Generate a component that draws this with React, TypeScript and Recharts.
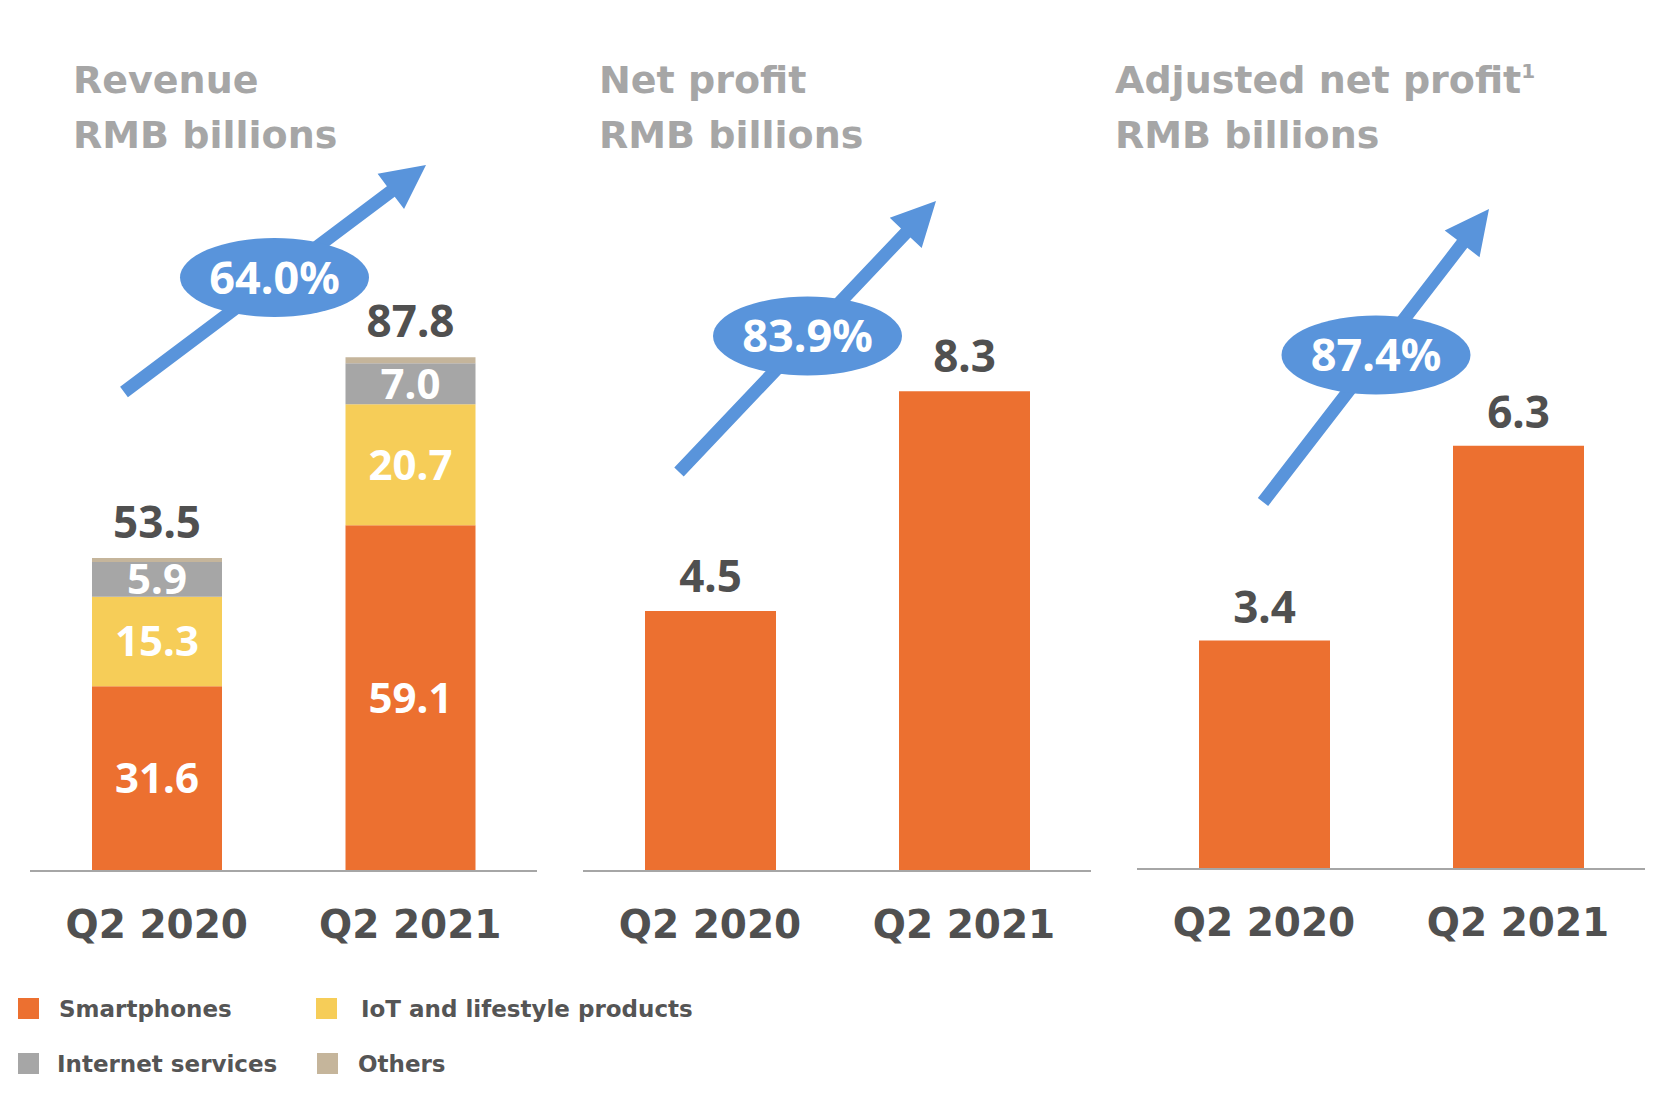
import React from 'react';
import { BarChart, Bar, XAxis, YAxis, LabelList } from 'recharts';

// Quarters compared in every panel
const quarters = ['Q2 2020', 'Q2 2021'];

// Revenue breakdown, RMB billions
const smartphones = [31.6, 59.1];
const iotLifestyle = [15.3, 20.7];
const internetServices = [5.9, 7.0];
const others = [0.7, 1.0];
const revenueTotals = [53.5, 87.8];

// Profit, RMB billions
const netProfit = [4.5, 8.3];
const adjustedNetProfit = [3.4, 6.3];

// Year-over-year growth badges
const growthLabels = ['64.0%', '83.9%', '87.4%'];

const seriesNames = ['Smartphones', 'IoT and lifestyle products', 'Internet services', 'Others'];

const ORANGE = '#EC7030';
const YELLOW = '#F6CD58';
const GRAY = '#A6A6A6';
const TAN = '#C5B59B';
const BLUE = '#5994DB';
const DARK = '#505050';
const TITLE = '#A6A6A6';

const SANS = '"DejaVu Sans", sans-serif';
const NUM = '"Noto Sans", sans-serif';

const revenueData = quarters.map((name, i) => ({
  name,
  smartphones: smartphones[i],
  iot: iotLifestyle[i],
  internet: internetServices[i],
  others: others[i],
  total: revenueTotals[i],
}));
const netData = quarters.map((name, i) => ({ name, value: netProfit[i] }));
const adjData = quarters.map((name, i) => ({ name, value: adjustedNetProfit[i] }));

const CHART_H = 1000;

const fmt = (v: any) => Number(v).toFixed(1);

const axisProps = {
  dataKey: 'name',
  height: CHART_H - 871,
  interval: 0 as const,
  tickLine: false,
  tickSize: 0,
  tickMargin: 39,
  axisLine: { stroke: GRAY, strokeWidth: 2 },
  tick: { fill: DARK, fontSize: 39, fontFamily: SANS, fontWeight: 700 },
};

const innerLabel = {
  position: 'center' as const,
  fill: '#FFFFFF',
  fontSize: 42,
  fontFamily: NUM,
  fontWeight: 700,
  formatter: fmt,
};

const topLabel = {
  position: 'top' as const,
  offset: 19,
  fill: DARK,
  fontSize: 44,
  fontFamily: NUM,
  fontWeight: 700,
  formatter: fmt,
};

// Arrow polygon from tail to tip
const arrowPoints = (sx: number, sy: number, tx: number, ty: number) => {
  const dx = tx - sx;
  const dy = ty - sy;
  const len = Math.hypot(dx, dy);
  const ux = dx / len;
  const uy = dy / len;
  const nx = -uy;
  const ny = ux;
  const shaft = 6.5;
  const head = 22;
  const headLen = 44;
  const bx = tx - ux * headLen;
  const by = ty - uy * headLen;
  const pts = [
    [sx + nx * shaft, sy + ny * shaft],
    [bx + nx * shaft, by + ny * shaft],
    [bx + nx * head, by + ny * head],
    [tx, ty],
    [bx - nx * head, by - ny * head],
    [bx - nx * shaft, by - ny * shaft],
    [sx - nx * shaft, sy - ny * shaft],
  ];
  return pts.map((p) => p.join(',')).join(' ');
};

const arrows = [
  { from: [124, 392], to: [426, 165], badge: [274.5, 277.5] },
  { from: [679, 472], to: [936, 201], badge: [807.5, 336] },
  { from: [1263, 502], to: [1489, 209], badge: [1376, 355] },
];

const titles = [
  { x: 73, lines: ['Revenue', 'RMB billions'] },
  { x: 599, lines: ['Net profit', 'RMB billions'] },
  { x: 1115, lines: ['Adjusted net profit', 'RMB billions'], sup: '1' },
];

const legendItems = [
  { color: ORANGE, x: 18, y: 998, tx: 59 },
  { color: YELLOW, x: 316, y: 998, tx: 361 },
  { color: GRAY, x: 18, y: 1053, tx: 57 },
  { color: TAN, x: 317, y: 1053, tx: 358 },
];

export default function App() {
  return (
    <div
      style={{
        position: 'absolute',
        left: 0,
        top: 0,
        width: 1666,
        height: 1108,
        background: '#fff',
        overflow: 'hidden',
      }}
    >
      {/* Revenue */}
      <div style={{ position: 'absolute', left: 30, top: 0 }}>
        <BarChart
          width={507}
          height={CHART_H}
          data={revenueData}
          margin={{ top: 286, right: 0, left: 0, bottom: 0 }}
          barSize={130}
        >
          <XAxis {...axisProps} />
          <YAxis hide domain={[0, 100]} />
          <Bar dataKey="smartphones" stackId="rev" fill={ORANGE} isAnimationActive={false}>
            <LabelList dataKey="smartphones" {...innerLabel} />
          </Bar>
          <Bar dataKey="iot" stackId="rev" fill={YELLOW} isAnimationActive={false}>
            <LabelList dataKey="iot" {...innerLabel} />
          </Bar>
          <Bar dataKey="internet" stackId="rev" fill={GRAY} isAnimationActive={false}>
            <LabelList dataKey="internet" {...innerLabel} />
          </Bar>
          <Bar dataKey="others" stackId="rev" fill={TAN} isAnimationActive={false}>
            <LabelList dataKey="total" {...topLabel} offset={20} />
          </Bar>
        </BarChart>
      </div>

      {/* Net profit */}
      <div style={{ position: 'absolute', left: 583, top: 0 }}>
        <BarChart
          width={508}
          height={CHART_H}
          data={netData}
          margin={{ top: 293, right: 0, left: 0, bottom: 0 }}
          barSize={131}
        >
          <XAxis {...axisProps} />
          <YAxis hide domain={[0, 10]} />
          <Bar dataKey="value" fill={ORANGE} isAnimationActive={false}>
            <LabelList dataKey="value" {...topLabel} />
          </Bar>
        </BarChart>
      </div>

      {/* Adjusted net profit */}
      <div style={{ position: 'absolute', left: 1137, top: -2 }}>
        <BarChart
          width={508}
          height={CHART_H}
          data={adjData}
          margin={{ top: 300, right: 0, left: 0, bottom: 0 }}
          barSize={131}
        >
          <XAxis {...axisProps} />
          <YAxis hide domain={[0, 8.5]} />
          <Bar dataKey="value" fill={ORANGE} isAnimationActive={false}>
            <LabelList dataKey="value" {...topLabel} offset={18} />
          </Bar>
        </BarChart>
      </div>

      {/* titles, growth arrows, legend */}
      <svg
        width={1666}
        height={1108}
        style={{ position: 'absolute', left: 0, top: 0, pointerEvents: 'none' }}
      >
        {titles.map((t) => (
          <text key={t.x} x={t.x} fill={TITLE} fontFamily={SANS} fontWeight={700} fontSize={38}>
            <tspan x={t.x} y={93}>
              {t.lines[0]}
              {t.sup && (
                <tspan fontSize={20} dy={-15}>
                  {t.sup}
                </tspan>
              )}
            </tspan>
            <tspan x={t.x} y={148}>
              {t.lines[1]}
            </tspan>
          </text>
        ))}

        {arrows.map((a, i) => (
          <g key={i}>
            <polygon points={arrowPoints(a.from[0], a.from[1], a.to[0], a.to[1])} fill={BLUE} />
            <ellipse cx={a.badge[0]} cy={a.badge[1]} rx={94.5} ry={39.5} fill={BLUE} />
            <text
              x={a.badge[0]}
              y={a.badge[1] + 16}
              textAnchor="middle"
              fill="#fff"
              fontFamily={NUM}
              fontWeight={700}
              fontSize={45}
            >
              {growthLabels[i]}
            </text>
          </g>
        ))}

        {legendItems.map((l, i) => (
          <g key={seriesNames[i]}>
            <rect x={l.x} y={l.y} width={21} height={21} fill={l.color} />
            <text
              x={l.tx}
              y={l.y + 19}
              fill="#555555"
              fontFamily={SANS}
              fontWeight={700}
              fontSize={23}
            >
              {seriesNames[i]}
            </text>
          </g>
        ))}
      </svg>
    </div>
  );
}
